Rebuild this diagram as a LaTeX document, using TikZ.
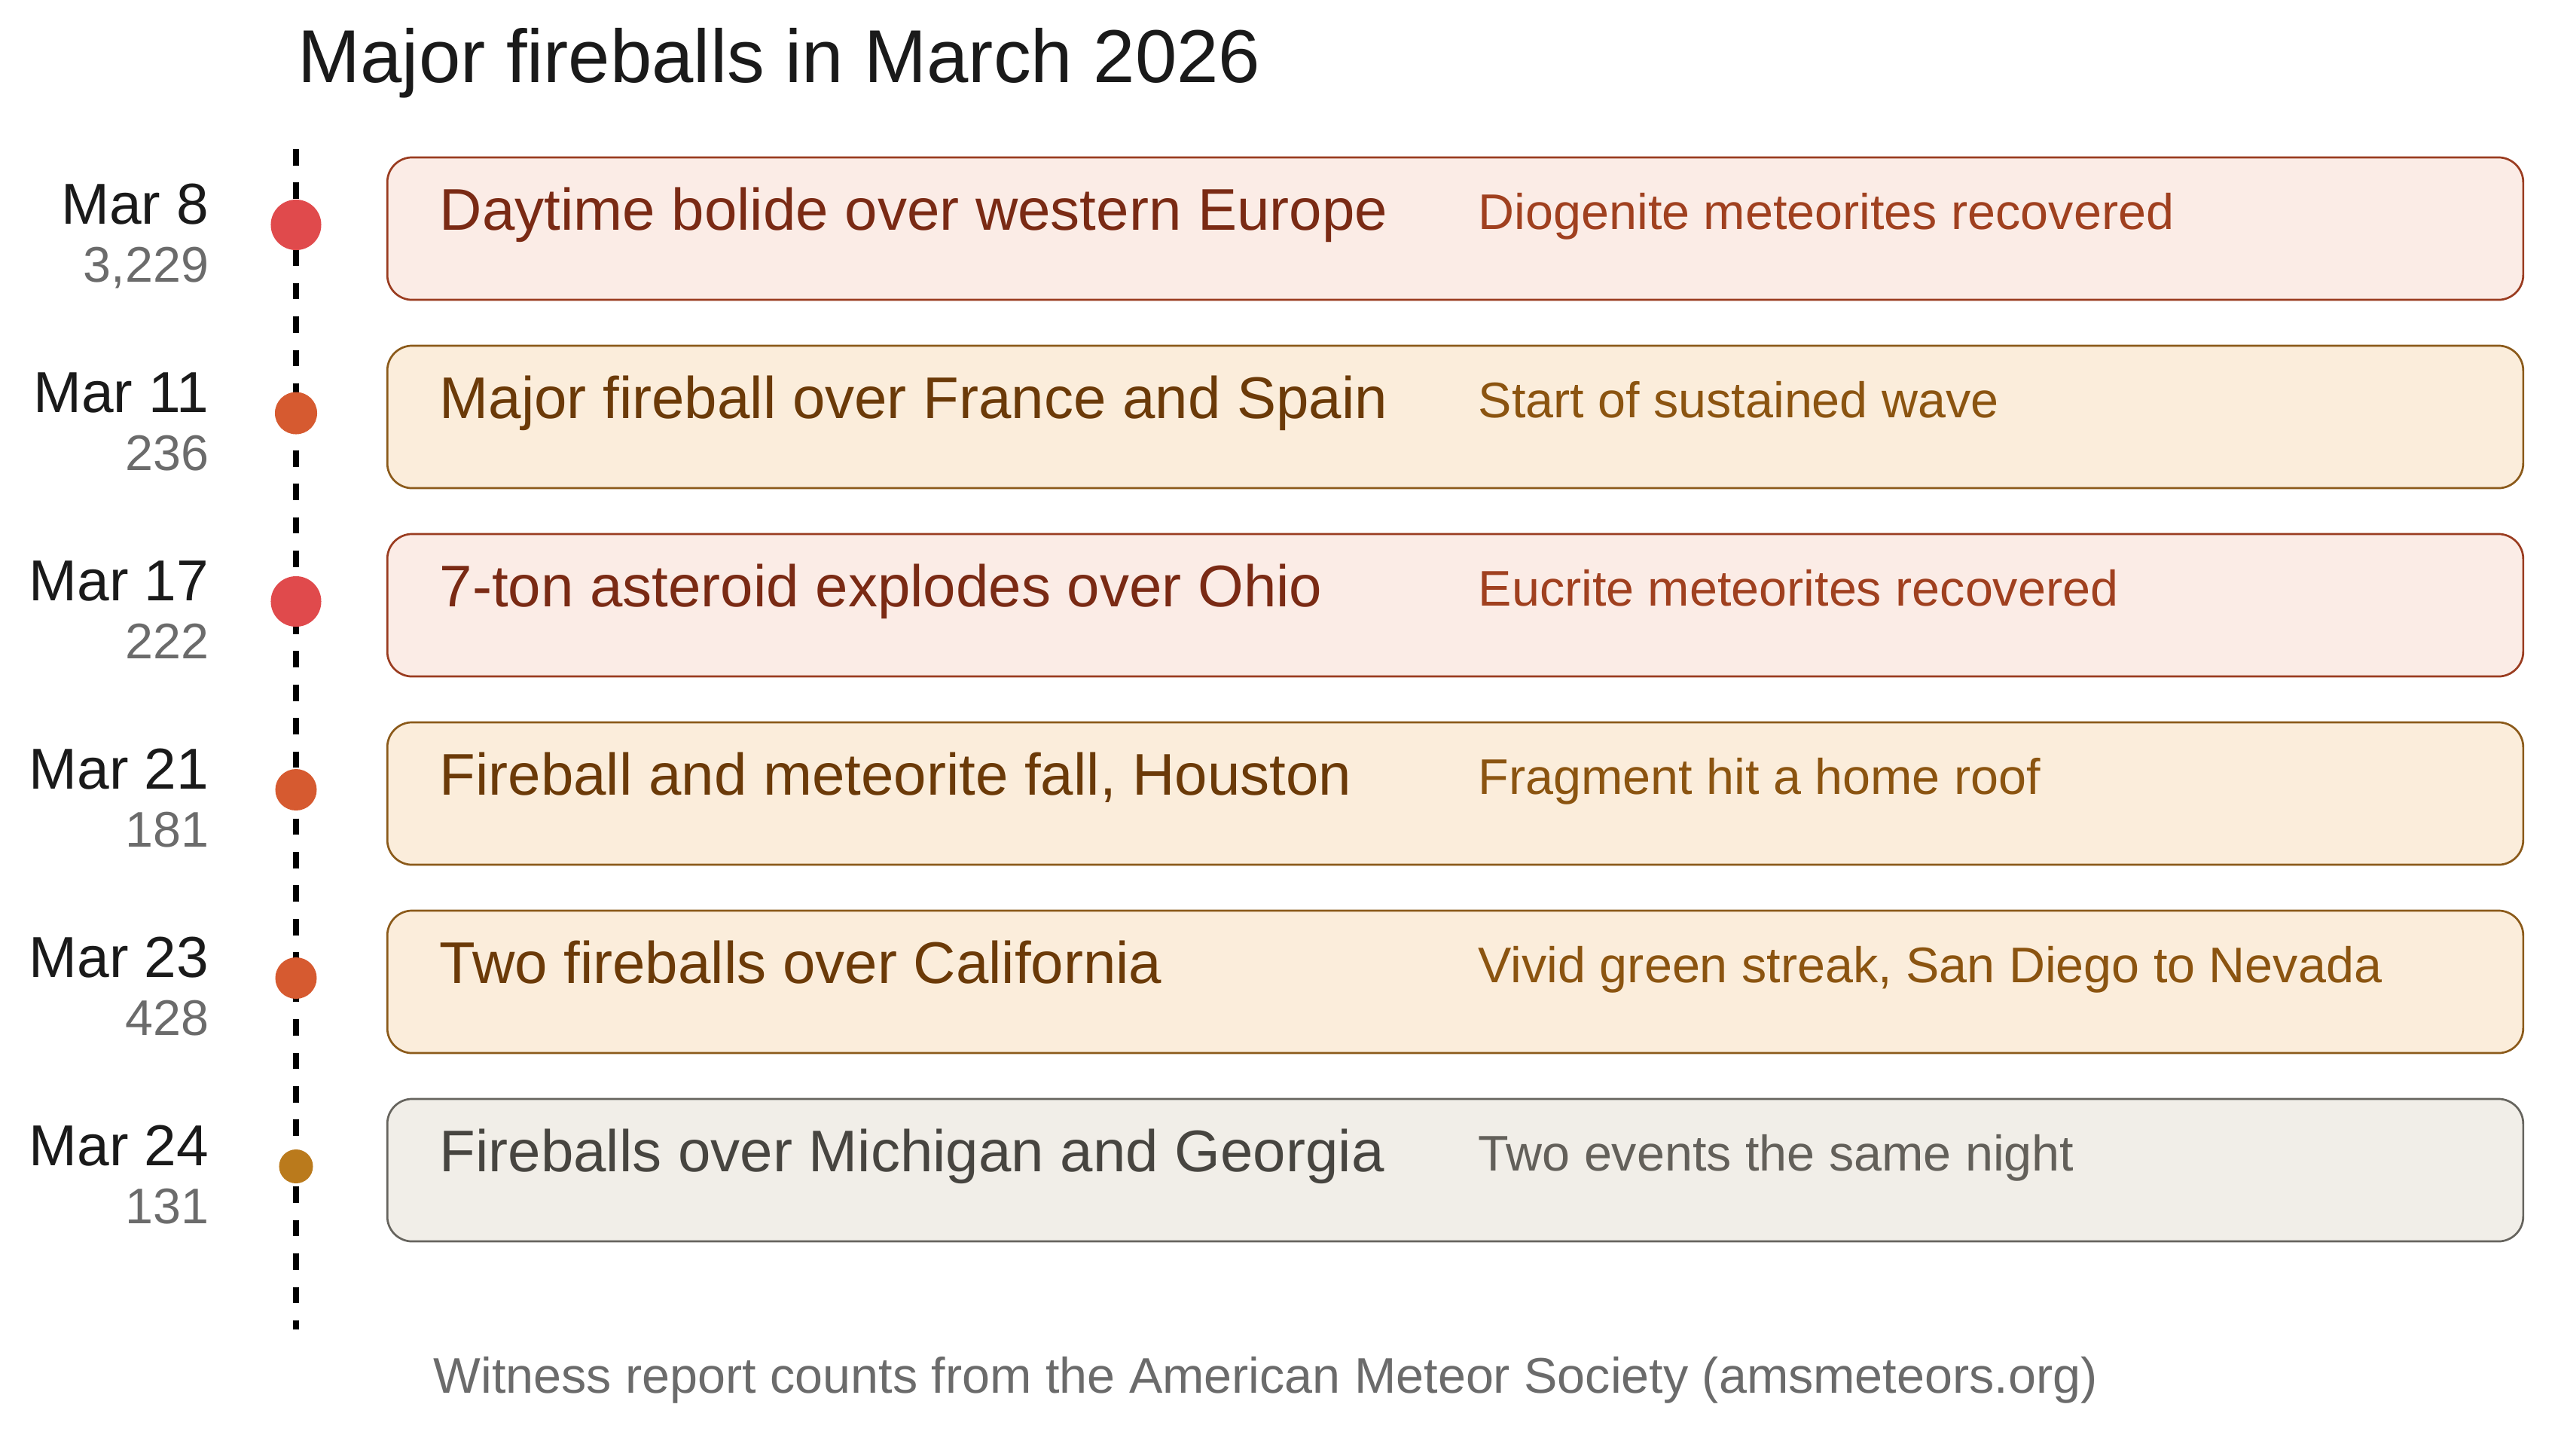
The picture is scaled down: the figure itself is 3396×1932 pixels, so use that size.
\documentclass[tikz,border=0pt]{standalone}
\usepackage{fontspec}
\setmainfont{Liberation Sans}
\usepackage{xcolor}
\definecolor{redFill}{HTML}{FBECE6}
\definecolor{redLine}{HTML}{9A3C20}
\definecolor{redMain}{HTML}{7A2A14}
\definecolor{redSub}{HTML}{A0401F}
\definecolor{redDot}{HTML}{E04A4C}
\definecolor{tanFill}{HTML}{FBEDDB}
\definecolor{tanLine}{HTML}{8B5A1A}
\definecolor{tanMain}{HTML}{6B3A08}
\definecolor{tanSub}{HTML}{8B5410}
\definecolor{tanDot}{HTML}{D65A30}
\definecolor{greyFill}{HTML}{F1EEE8}
\definecolor{greyLine}{HTML}{66645E}
\definecolor{greyMain}{HTML}{474540}
\definecolor{greySub}{HTML}{63605A}
\definecolor{greyDot}{HTML}{BA7A1C}
\definecolor{ink}{HTML}{1A1A1A}
\definecolor{muted}{HTML}{6B6B6B}
\tikzstyle{eventbox} = [rounded corners=0.33cm, line width=0.027cm, minimum width=28.34cm, minimum height=1.89cm, inner sep=0]

\begin{document}
\begin{tikzpicture}[x=0.01cm, y=-0.01cm]
\tikzset{
  big/.style={font=\fontsize{22.2}{26}\selectfont},
  datefont/.style={font=\fontsize{21.8}{26}\selectfont},
  small/.style={font=\fontsize{18.9}{22}\selectfont},
  box/.style={eventbox, fill=#1Fill, draw=#1Line},
  dot/.style={circle, inner sep=0, fill=#1Dot},
  txt/.style={inner sep=0}
}
\useasboundingbox (0,0) rectangle (3396,1932);

\node[txt, anchor=base west, text=ink, font=\fontsize{28.3}{34}\selectfont] (title) at (395,109) {Major fireballs in March 2026};

% timeline
\coordinate (lineTop) at (393,198);
\coordinate (lineBot) at (393,1765);
\draw[line width=0.08cm, dash pattern=on 0.217cm off 0.227cm] (lineTop) -- (lineBot);

\foreach \i/\when/\cnt/\kind/\dia/\event/\remark in {
  0/Mar 8/{3,229}/red/0.67/Daytime bolide over western Europe/Diogenite meteorites recovered,
  1/Mar 11/236/tan/0.56/Major fireball over France and Spain/Start of sustained wave,
  2/Mar 17/222/red/0.67/7-ton asteroid explodes over Ohio/Eucrite meteorites recovered,
  3/Mar 21/181/tan/0.55/{Fireball and meteorite fall, Houston}/Fragment hit a home roof,
  4/Mar 23/428/tan/0.55/Two fireballs over California/{Vivid green streak, San Diego to Nevada},
  5/Mar 24/131/grey/0.45/Fireballs over Michigan and Georgia/Two events the same night}
{
  \pgfmathsetmacro{\y}{250*\i}
  \node[box=\kind] (box\i) at (1932,303.5+\y) {};
  \node[dot=\kind, minimum size=\dia cm] (dot\i) at (393,298.5+\y) {};
  \node[txt, datefont, anchor=base east, text=ink] (date\i) at (278,297+\y) {\when};
  \node[txt, small, anchor=base east, text=muted] (count\i) at (278,374+\y) {\cnt};
  \node[txt, big, anchor=base west, text=\kind Main] (event\i) at (583,305+\y) {\event};
  \node[txt, small, anchor=base west, text=\kind Sub] (remark\i) at (1962,304+\y) {\remark};
}

\node[txt, small, anchor=base west, text=muted] (source) at (575,1849) {Witness report counts from the American Meteor Society (amsmeteors.org)};
\end{tikzpicture}
\end{document}
